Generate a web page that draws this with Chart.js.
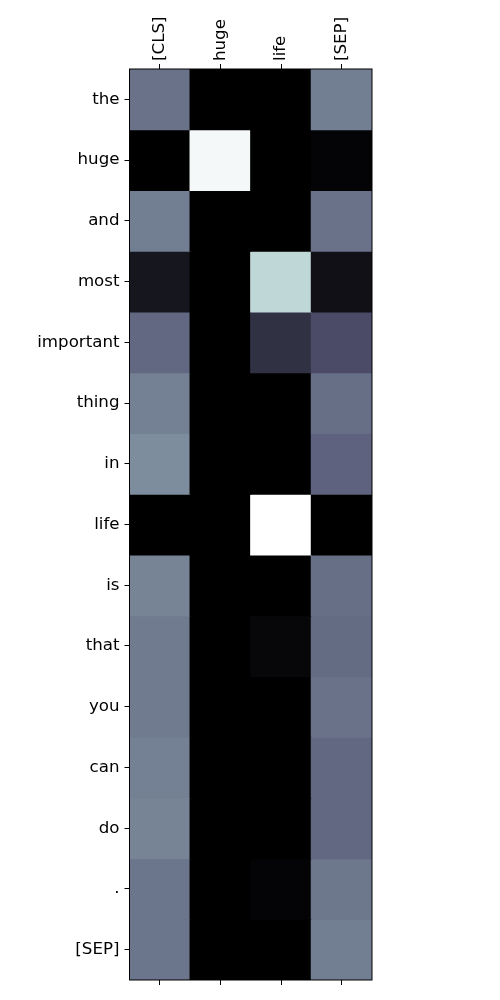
<!DOCTYPE html>
<html><head><meta charset="utf-8">
<script src="https://cdn.jsdelivr.net/npm/chart.js@4/dist/chart.umd.min.js"></script>
<style>html,body{margin:0;padding:0;background:#fff}canvas{display:block}</style>
</head><body>
<canvas id="c" width="500" height="1000"></canvas>
<script>
const cols = ["[CLS]", "huge", "life", "[SEP]"];
const rows = ["the","huge","and","most","important","thing","in","life","is","that","you","can","do",".","[SEP]"];
const colCLS  = [0.47,0.00,0.51,0.10,0.44,0.52,0.56,0.00,0.53,0.50,0.50,0.52,0.53,0.48,0.48];
const colHuge = [0.00,0.97,0.00,0.00,0.00,0.00,0.00,0.00,0.00,0.00,0.00,0.00,0.00,0.00,0.00];
const colLife = [0.00,0.00,0.00,0.82,0.22,0.00,0.00,1.00,0.00,0.03,0.00,0.00,0.00,0.02,0.00];
const colSEP  = [0.51,0.02,0.47,0.07,0.335,0.46,0.42,0.00,0.46,0.45,0.47,0.44,0.44,0.49,0.51];
const matrix = [colCLS, colHuge, colLife, colSEP];

function bone(v){
  v = Math.max(0, Math.min(1, v));
  let r, g, b;
  r = v < 0.746032 ? 0.875*v : 0.652778 + (v-0.746032)*(0.347222/0.253968);
  if (v < 0.365079) g = 0.875*v;
  else if (v < 0.746032) g = 0.319444 + (v-0.365079)*(0.458334/0.380953);
  else g = 0.777778 + (v-0.746032)*(0.222222/0.253968);
  b = v < 0.365079 ? v*(0.444444/0.365079) : 0.444444 + (v-0.365079)*(0.555556/0.634921);
  return `rgb(${Math.round(r*255)},${Math.round(g*255)},${Math.round(b*255)})`;
}

const datasets = rows.map((name, i) => ({
  label: name,
  data: cols.map(() => 1),
  backgroundColor: cols.map((c, j) => bone(matrix[j][i])),
  borderWidth: 0,
  inflateAmount: 0.6,
  barPercentage: 1,
  categoryPercentage: 1,
  xAxisID: 'x'
}));

const frame = {
  id: 'frame',
  afterDraw(chart){
    const {ctx, chartArea:a} = chart;
    ctx.save();
    ctx.strokeStyle = '#000';
    ctx.lineWidth = 1;
    ctx.strokeRect(a.left, a.top, a.right - a.left, a.bottom - a.top);
    ctx.restore();
  }
};

const font = {family: 'DejaVu Sans', size: 16.67};
new Chart(document.getElementById('c'), {
  type: 'bar',
  data: {labels: cols, datasets},
  options: {
    responsive: false,
    animation: false,
    layout: {padding: {left: 0, right: 128, top: 0, bottom: 0}},
    plugins: {legend: {display: false}, tooltip: {enabled: false}},
    scales: {
      x: {
        type: 'category', position: 'top', stacked: true, offset: true,
        grid: {display: true, drawOnChartArea: false, offset: false, tickLength: 5, color: '#000', tickColor: '#000'},
        border: {display: false},
        ticks: {color: '#000', font, minRotation: 90, maxRotation: 90, padding: 3, labelOffset: 20, autoSkip: false},
        afterFit(s){ s.height = 69; }
      },
      x2: {
        type: 'category', position: 'bottom', labels: cols, offset: true,
        grid: {display: true, drawOnChartArea: false, offset: false, tickLength: 5, color: '#000', tickColor: '#000'},
        border: {display: false},
        ticks: {color: '#000', font, callback: () => '', autoSkip: false},
        afterFit(s){ s.height = 20; }
      },
      y: {
        type: 'linear', stacked: true, min: 0, max: rows.length, reverse: true,
        grid: {display: true, drawOnChartArea: false, tickLength: 5, color: '#000', tickColor: '#000'},
        border: {display: false},
        afterBuildTicks(s){ s.ticks = rows.map((r, i) => ({value: i + 0.5})); },
        ticks: {color: '#000', font, padding: 5, autoSkip: false, callback: (v) => rows[Math.floor(v)]},
        afterFit(s){ s.width = 129.5; }
      }
    }
  },
  plugins: [frame]
});
</script>
</body></html>
